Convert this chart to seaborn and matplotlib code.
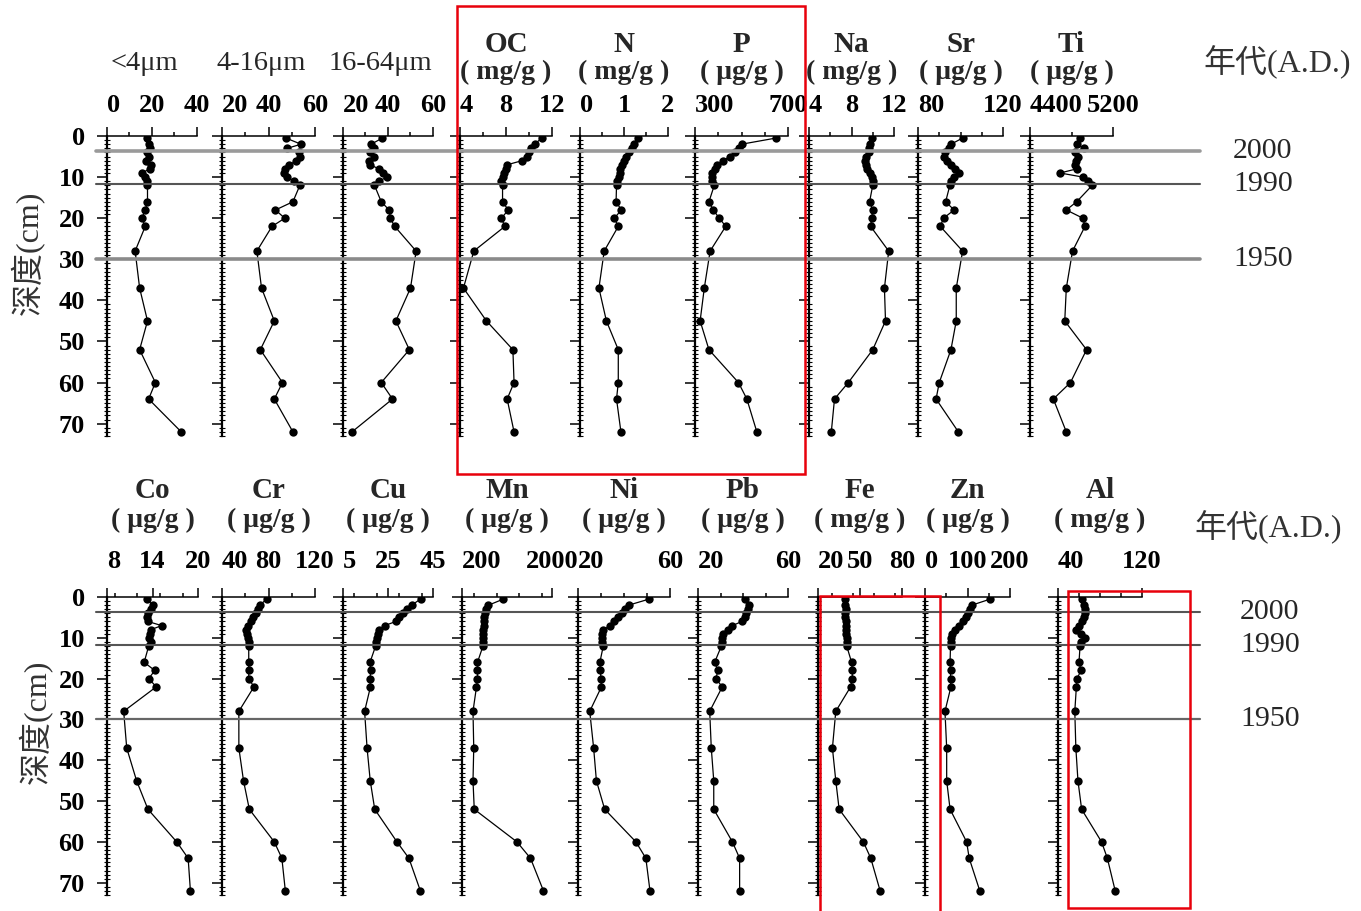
import matplotlib
matplotlib.use("Agg")
import matplotlib.pyplot as plt
import matplotlib.transforms as mtransforms
from matplotlib.lines import Line2D
from matplotlib.patches import Rectangle
from matplotlib.ticker import MultipleLocator
import seaborn as sns

# ---------------- data ----------------
depth = [0.5, 2, 3, 4, 5, 6, 7, 8, 9, 10, 11, 12, 16, 18, 20, 22, 28, 37, 45, 52, 60, 64, 72]

clay = [18, 18.5, 19, 18, 18.5, 17.5, 19.5, 19, 15.5, 17, 18, 18, 18, 17, 15.5, 17, 12.5, 14.5, 18, 14.5, 21.5, 18.5, 33]
fine_silt = [47.5, 54, 48, 53, 53.5, 52, 49, 47, 46.5, 48, 51, 53.5, 50.5, 43, 47, 41.5, 35, 37, 42.5, 36.5, 46, 42.5, 50.5]
coarse_silt = [37.5, 32.5, 34, 32, 34, 31.5, 32, 36, 38, 39.5, 36, 34, 37, 40.5, 41, 43, 52.5, 50, 43.5, 49.5, 37, 42, 24]
oc = [11.1, 10.5, 10.2, 10.0, 9.8, 9.4, 8.1, 8.0, 7.8, 7.7, 7.6, 7.7, 7.7, 8.2, 7.6, 7.9, 5.2, 4.3, 6.3, 8.6, 8.7, 8.1, 8.7]
n = [1.32, 1.22, 1.18, 1.12, 1.05, 1.0, 0.95, 0.92, 0.9, 0.88, 0.85, 0.83, 0.82, 0.94, 0.78, 0.87, 0.55, 0.43, 0.6, 0.87, 0.87, 0.83, 0.93]
p = [648, 500, 490, 470, 450, 420, 395, 385, 375, 372, 375, 383, 360, 378, 405, 432, 365, 340, 322, 360, 487, 523, 566]
na = [9.9, 9.7, 9.6, 9.6, 9.4, 9.3, 9.4, 9.5, 9.7, 9.9, 10.0, 10.0, 9.7, 10.0, 9.9, 9.8, 11.5, 11.1, 11.2, 10.0, 7.7, 6.4, 6.1]
sr = [101, 95.5, 94.5, 92.5, 92, 93.5, 95.5, 97.5, 99.5, 97, 95.5, 95, 93, 97, 92, 90.5, 101, 98, 98, 95.5, 90, 88.5, 99]
ti = [4880, 4850, 4920, 4830, 4860, 4840, 4830, 4850, 4690, 4910, 4960, 5000, 4850, 4750, 4910, 4930, 4810, 4750, 4735, 4945, 4790, 4625, 4750]

co = [13.3, 14.0, 13.8, 13.4, 13.3, 13.4, 15.2, 13.8, 13.7, 13.6, 13.8, 13.5, 12.9, 14.3, 13.5, 14.5, 10.2, 10.6, 11.9, 13.4, 17.2, 18.7, 19.0]
cr = [78.5, 72.5, 71, 69, 67, 65, 62, 61, 61.5, 62, 63, 63, 63, 63, 63, 67.5, 54.5, 54.5, 58.5, 63.5, 85, 91.5, 94.5]
cu = [39.5, 35.5, 33.5, 31.5, 30, 28.5, 23.5, 21, 20.5, 20, 19.5, 19.5, 17, 17.3, 17, 17.2, 14.6, 15.7, 17.1, 19.1, 29, 34.3, 39.4]
mn = [1030, 730, 680, 660, 650, 640, 640, 630, 630, 625, 620, 620, 510, 510, 510, 490, 420, 435, 420, 445, 1300, 1570, 1830]
ni = [51, 42, 40.5, 39, 37.5, 35.5, 34, 31, 30.5, 30.5, 30.5, 31, 29.5, 29.7, 30, 30.2, 25.1, 26.8, 28, 31.6, 45.2, 49.5, 51.3]
pb = [40.7, 42.7, 42.3, 41.5, 40.7, 39.5, 35.3, 33.5, 31.1, 30.8, 30.5, 30.4, 27.4, 28.9, 27.9, 30.8, 25.2, 25.9, 27, 27, 35.3, 38.5, 38.5]
fe = [39.2, 39.5, 39.8, 39.5, 39.5, 39.8, 40, 40.2, 40.2, 40.4, 40.5, 40.5, 44, 44.5, 44.5, 43.3, 32.7, 30.3, 32.7, 35.1, 52.4, 57.7, 64.4]
zn = [154, 110, 106, 102, 96, 90, 80, 70, 63, 62, 61, 60, 59, 60, 60, 61, 47, 51, 51, 59, 98, 104, 129]
al = [62.5, 64.5, 65.5, 65.5, 64.5, 63, 60, 57.5, 62, 65.5, 62, 61, 60, 62, 58, 57.5, 56, 57, 59, 62.5, 81.5, 87, 94.5]

top_titles = ["<4μm", "4-16μm", "16-64μm", "OC", "N", "P", "Na", "Sr", "Ti"]
top_units = [None, None, None, "( mg/g )", "( mg/g )", "( μg/g )", "( mg/g )", "( μg/g )", "( μg/g )"]
top_series = [clay, fine_silt, coarse_silt, oc, n, p, na, sr, ti]
top_limits = [(0, 40), (20, 60), (20, 60), (4, 12), (0, 2), (300, 700), (4, 12), (80, 120), (4400, 5200)]
top_major = [[0, 20, 40], [20, 40, 60], [20, 40, 60], [4, 8, 12], [0, 1, 2], [300, 700], [4, 8, 12], [80, 120], [4400, 5200]]
top_minor = [10, 10, 10, 2, 0.5, 100, 2, 10, 400]

bot_titles = ["Co", "Cr", "Cu", "Mn", "Ni", "Pb", "Fe", "Zn", "Al"]
bot_units = ["( μg/g )"] * 6 + ["( mg/g )", "( μg/g )", "( mg/g )"]
bot_series = [co, cr, cu, mn, ni, pb, fe, zn, al]
bot_limits = [(8, 20), (40, 120), (5, 45), (200, 2000), (20, 60), (20, 60), (20, 80), (0, 200), (40, 120)]
bot_major = [[8, 14, 20], [40, 80, 120], [5, 25, 45], [200, 2000], [20, 60], [20, 60], [20, 50, 80], [0, 100, 200], [40, 120]]
bot_minor = [3, 20, 10, 450, 10, 10, 15, 50, 20]

event_depths = [3.7, 11.8, 30]
event_years = ["2000", "1990", "1950"]
depth_label = "深度(cm)"
year_header = "年代(A.D.)"

# ---------------- style ----------------
sns.set_theme(style="white")
plt.rcParams["font.family"] = ["Liberation Serif", "Noto Sans CJK SC"]
plt.rcParams["axes.edgecolor"] = "black"
plt.rcParams["xtick.color"] = "black"
plt.rcParams["ytick.color"] = "black"

W, H = 1361, 911
fig = plt.figure(figsize=(W / 100, H / 100), dpi=100)
fig.patch.set_facecolor("white")

top_left = [107, 222, 343, 460, 580, 695, 809, 918, 1030]
top_right = [197, 315, 433, 552, 668, 788, 894, 1003, 1113]
bot_left = [107, 222, 343, 462, 578, 698, 818, 925, 1058]
bot_right = [198, 315, 433, 552, 670, 788, 902, 1010, 1142]


def make_axes(l, r, t, b):
    return fig.add_axes([l / W, 1 - b / H, (r - l) / W, (b - t) / H])


def draw_panel(ax, vals, lims, major, minor, first, xpad):
    sns.lineplot(x=vals, y=depth, sort=False, estimator=None, ax=ax, color="black",
                 lw=0.9, marker="o", markersize=6, markeredgewidth=0, legend=False)
    ax.set_xlim(*lims)
    ax.set_ylim(73, 0)
    ax.set_xlabel("")
    ax.set_ylabel("")
    ax.patch.set_alpha(0)
    for s in ["right", "bottom"]:
        ax.spines[s].set_visible(False)
    ax.spines["left"].set_linewidth(1.6)
    ax.spines["top"].set_linewidth(1.1)
    ax.xaxis.set_ticks_position("top")
    ax.set_xticks(major)
    ax.set_xticklabels([f"{v:g}" for v in major])
    ax.xaxis.set_minor_locator(MultipleLocator(minor))
    ax.tick_params(axis="x", which="major", direction="out", length=6.5, width=1.1,
                   pad=xpad, labelsize=19, top=True, bottom=False, labeltop=True, labelbottom=False)
    ax.tick_params(axis="x", which="minor", direction="out", length=3, width=1.1, top=True, bottom=False)
    ticks = ax.xaxis.get_major_ticks()
    ticks[0].label2.set_horizontalalignment("left")
    for t in ticks:
        t.label2.set_fontweight("bold")
    ax.yaxis.set_major_locator(MultipleLocator(10))
    ax.yaxis.set_minor_locator(MultipleLocator(1))
    ax.tick_params(axis="y", which="major", direction="out", length=7, width=1.1,
                   left=True, labelleft=first, pad=9, labelsize=19)
    ax.tick_params(axis="y", which="minor", direction="inout", length=4, width=0.8, left=True)
    if first:
        for lab in ax.get_yticklabels():
            lab.set_fontweight("bold")


def draw_row(lefts, rights, top, bottom, titles, units, series, limits, majors, minors,
             xpad, name_y, unit_y, single_y, line_styles, year_x, header_xy, ylab_xy):
    axes = []
    for i in range(9):
        ax = make_axes(lefts[i], rights[i], top, bottom)
        draw_panel(ax, series[i], limits[i], majors[i], minors[i], i == 0, xpad)
        axes.append(ax)
        tr = mtransforms.blended_transform_factory(ax.transAxes, fig.transFigure)
        if units[i] is None:
            ax.text(0.42, 1 - single_y / H, titles[i], transform=tr, ha="center", va="center",
                    fontsize=20.5)
        else:
            ax.text(0.5, 1 - name_y / H, titles[i], transform=tr, ha="center", va="center",
                    fontsize=21, fontweight="bold")
            ax.text(0.5, 1 - unit_y / H, units[i], transform=tr, ha="center", va="center",
                    fontsize=20, fontweight="bold")
    ax0 = axes[0]
    btr = mtransforms.blended_transform_factory(fig.transFigure, ax0.transData)
    for d, yr, (c, lw) in zip(event_depths, event_years, line_styles):
        fig.add_artist(Line2D([96 / W, 1200 / W], [d, d], transform=btr, color=c, lw=lw, zorder=3))
        fig.text(year_x / W, d, yr, transform=btr, ha="left", va="center", fontsize=21.5)
    fig.text(header_xy[0] / W, 1 - header_xy[1] / H, year_header, ha="center", va="center",
             fontsize=23, color="#333333")
    fig.text(ylab_xy[0] / W, 1 - ylab_xy[1] / H, depth_label,
             rotation=90, ha="center", va="center", fontsize=23, color="#333333")
    return axes


draw_row(top_left, top_right, 136, 436, top_titles, top_units, top_series, top_limits, top_major, top_minor,
         xpad=7.5, name_y=44, unit_y=72, single_y=63,
         line_styles=[("#9a9a9a", 2.6), ("#555555", 1.5), ("#8a8a8a", 2.6)],
         year_x=1233, header_xy=(1277, 62), ylab_xy=(28, 253))

draw_row(bot_left, bot_right, 597, 895, bot_titles, bot_units, bot_series, bot_limits, bot_major, bot_minor,
         xpad=10.5, name_y=490, unit_y=520, single_y=500,
         line_styles=[("#555555", 1.5), ("#555555", 1.5), ("#666666", 1.6)],
         year_x=1240, header_xy=(1268, 527), ylab_xy=(36, 722))

# highlight boxes
for (x0, y0, x1, y1) in [(457, 6, 805, 474), (820, 596, 940, 915), (1068, 591, 1190, 908)]:
    fig.add_artist(Rectangle((x0 / W, 1 - y1 / H), (x1 - x0) / W, (y1 - y0) / H, transform=fig.transFigure,
                             fill=False, ec="#e8000b", lw=1.8, zorder=5))

fig.savefig("out.png", dpi=100)
